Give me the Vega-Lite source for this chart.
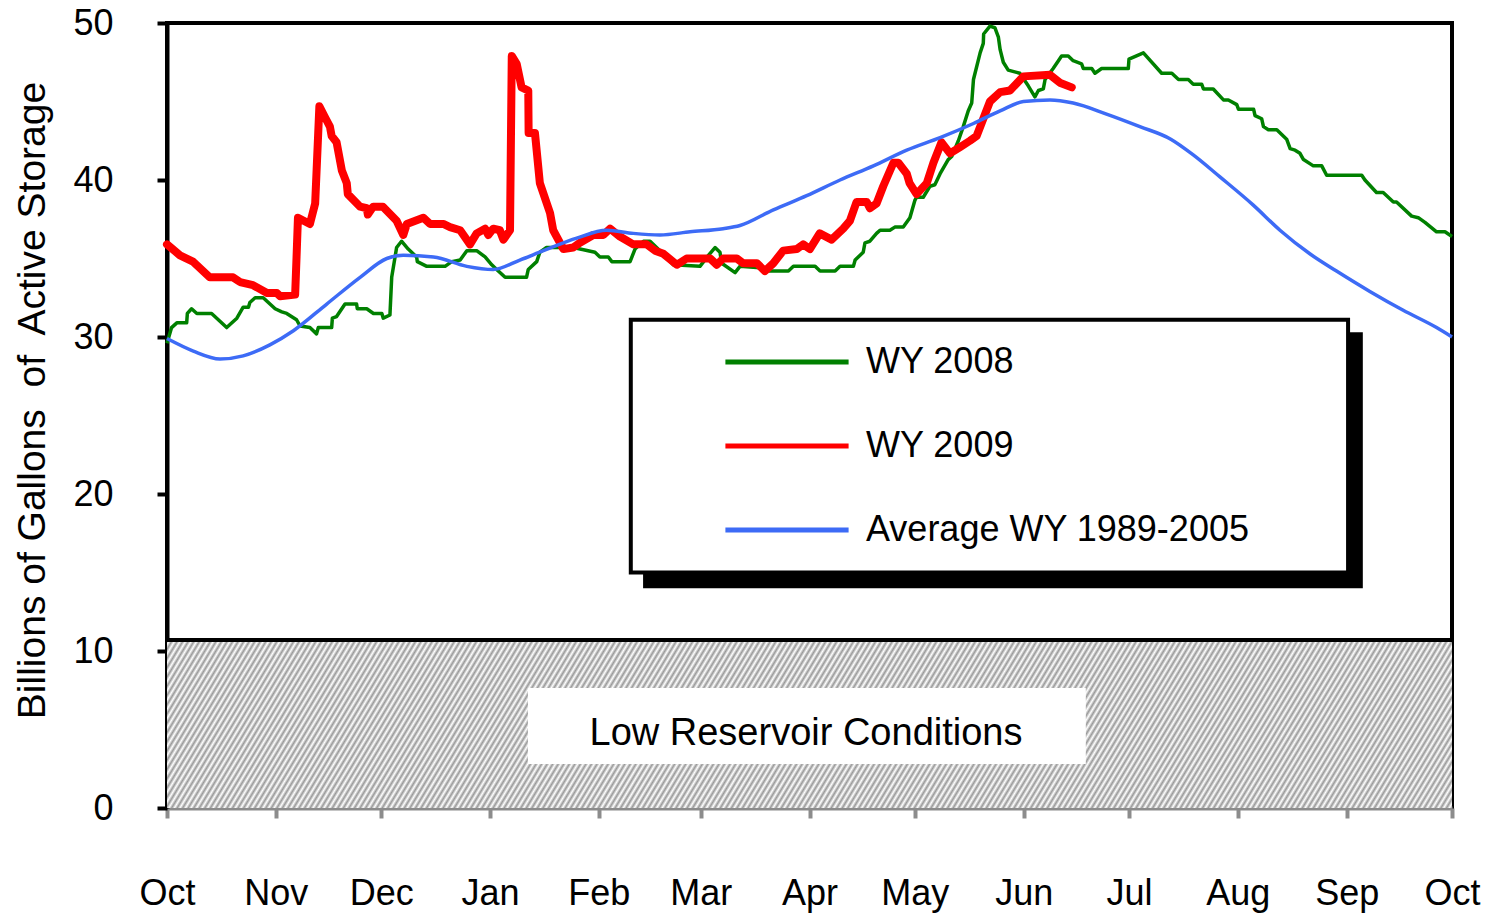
{
  "$schema": "https://vega.github.io/schema/vega-lite/v6.json",
  "autosize": "none",
  "width": 1285,
  "height": 785,
  "padding": {"left": 167, "top": 23, "right": 41, "bottom": 105},
  "background": "white",
  "config": {
    "font": "Liberation Sans",
    "view": {"stroke": "black", "strokeWidth": 4}
  },
  "datasets": {
    "zone": [{"zone": "Low Reservoir Conditions", "day": 0, "dayEnd": 366, "storage": 0, "storageTop": 10.7}],
    "threshold": [{"day": 0, "dayEnd": 366, "storage": 10.7}],
    "labelBox": [{"day": 102.8, "dayEnd": 261.7, "storage": 2.8, "storageTop": 7.65}],
    "labels": [{"day": 182, "storage": 4.7, "text": "Low Reservoir Conditions"}],
    "legendShadow": [{"day": 135.6, "dayEnd": 340.6, "storage": 14.0, "storageTop": 30.3}],
    "legendBox": [{"day": 132.1, "dayEnd": 336.4, "storage": 15.0, "storageTop": 31.1}],
    "wy2008": [
      {"series":"WY 2008","day":0,"storage":29.6},{"series":"WY 2008","day":1.3,"storage":30.6},{"series":"WY 2008","day":2.8,"storage":30.9},{"series":"WY 2008","day":5.6,"storage":30.9},{"series":"WY 2008","day":5.8,"storage":31.5},{"series":"WY 2008","day":7.0,"storage":31.8},{"series":"WY 2008","day":8.5,"storage":31.5},{"series":"WY 2008","day":12.7,"storage":31.5},{"series":"WY 2008","day":17.0,"storage":30.6},{"series":"WY 2008","day":19.9,"storage":31.2},{"series":"WY 2008","day":21.7,"storage":31.9},{"series":"WY 2008","day":23.2,"storage":31.9},{"series":"WY 2008","day":23.6,"storage":32.2},{"series":"WY 2008","day":25.1,"storage":32.5},{"series":"WY 2008","day":27.4,"storage":32.5},{"series":"WY 2008","day":30.8,"storage":31.8},{"series":"WY 2008","day":32.7,"storage":31.6},{"series":"WY 2008","day":34.1,"storage":31.5},{"series":"WY 2008","day":36.9,"storage":31.1},{"series":"WY 2008","day":37.9,"storage":30.7},{"series":"WY 2008","day":40.7,"storage":30.6},{"series":"WY 2008","day":42.6,"storage":30.2},{"series":"WY 2008","day":43.1,"storage":30.6},{"series":"WY 2008","day":46.9,"storage":30.6},{"series":"WY 2008","day":47.1,"storage":31.2},{"series":"WY 2008","day":48.3,"storage":31.3},{"series":"WY 2008","day":50.7,"storage":32.1},{"series":"WY 2008","day":54.0,"storage":32.1},{"series":"WY 2008","day":54.2,"storage":31.8},{"series":"WY 2008","day":56.9,"storage":31.8},{"series":"WY 2008","day":58.8,"storage":31.5},{"series":"WY 2008","day":61.2,"storage":31.5},{"series":"WY 2008","day":61.6,"storage":31.2},{"series":"WY 2008","day":63.5,"storage":31.4},{"series":"WY 2008","day":64.0,"storage":33.8},{"series":"WY 2008","day":65.4,"storage":35.7},{"series":"WY 2008","day":66.8,"storage":36.1},{"series":"WY 2008","day":68.7,"storage":35.6},{"series":"WY 2008","day":71.1,"storage":35.1},{"series":"WY 2008","day":71.3,"storage":34.8},{"series":"WY 2008","day":74.0,"storage":34.5},{"series":"WY 2008","day":79.2,"storage":34.5},{"series":"WY 2008","day":81.1,"storage":34.8},{"series":"WY 2008","day":83.5,"storage":34.9},{"series":"WY 2008","day":85.4,"storage":35.5},{"series":"WY 2008","day":88.2,"storage":35.5},{"series":"WY 2008","day":90.6,"storage":35.1},{"series":"WY 2008","day":92.5,"storage":34.6},{"series":"WY 2008","day":93.9,"storage":34.3},{"series":"WY 2008","day":96.3,"storage":33.8},{"series":"WY 2008","day":102.4,"storage":33.8},{"series":"WY 2008","day":102.9,"storage":34.3},{"series":"WY 2008","day":105.3,"storage":34.8},{"series":"WY 2008","day":106.2,"storage":35.4},{"series":"WY 2008","day":108.1,"storage":35.7},{"series":"WY 2008","day":115.7,"storage":35.7},{"series":"WY 2008","day":121.9,"storage":35.4},{"series":"WY 2008","day":123.3,"storage":35.1},{"series":"WY 2008","day":125.7,"storage":35.1},{"series":"WY 2008","day":126.7,"storage":34.8},{"series":"WY 2008","day":131.9,"storage":34.8},{"series":"WY 2008","day":133.3,"storage":35.6},{"series":"WY 2008","day":135.7,"storage":36.1},{"series":"WY 2008","day":137.6,"storage":36.1},{"series":"WY 2008","day":140.4,"storage":35.5},{"series":"WY 2008","day":144.2,"storage":34.6},{"series":"WY 2008","day":151.8,"storage":34.5},{"series":"WY 2008","day":154.2,"storage":35.2},{"series":"WY 2008","day":156.1,"storage":35.7},{"series":"WY 2008","day":157.5,"storage":35.4},{"series":"WY 2008","day":158.0,"storage":34.7},{"series":"WY 2008","day":161.8,"storage":34.1},{"series":"WY 2008","day":163.2,"storage":34.5},{"series":"WY 2008","day":169.8,"storage":34.4},{"series":"WY 2008","day":171.3,"storage":34.2},{"series":"WY 2008","day":177.0,"storage":34.2},{"series":"WY 2008","day":178.4,"storage":34.5},{"series":"WY 2008","day":184.6,"storage":34.5},{"series":"WY 2008","day":186.0,"storage":34.2},{"series":"WY 2008","day":190.3,"storage":34.2},{"series":"WY 2008","day":191.7,"storage":34.5},{"series":"WY 2008","day":195.5,"storage":34.5},{"series":"WY 2008","day":196.0,"storage":34.9},{"series":"WY 2008","day":198.3,"storage":35.4},{"series":"WY 2008","day":198.8,"storage":36.0},{"series":"WY 2008","day":200.2,"storage":36.1},{"series":"WY 2008","day":202.1,"storage":36.6},{"series":"WY 2008","day":203.1,"storage":36.8},{"series":"WY 2008","day":205.9,"storage":36.8},{"series":"WY 2008","day":207.3,"storage":37.0},{"series":"WY 2008","day":209.7,"storage":37.0},{"series":"WY 2008","day":211.6,"storage":37.6},{"series":"WY 2008","day":213.0,"storage":38.7},{"series":"WY 2008","day":213.5,"storage":38.9},{"series":"WY 2008","day":215.4,"storage":38.9},{"series":"WY 2008","day":217.3,"storage":39.6},{"series":"WY 2008","day":218.7,"storage":39.7},{"series":"WY 2008","day":220.2,"storage":40.4},{"series":"WY 2008","day":222.5,"storage":41.3},{"series":"WY 2008","day":223.5,"storage":41.5},{"series":"WY 2008","day":225.4,"storage":42.5},{"series":"WY 2008","day":226.8,"storage":43.4},{"series":"WY 2008","day":228.2,"storage":44.4},{"series":"WY 2008","day":229.2,"storage":44.9},{"series":"WY 2008","day":229.7,"storage":46.4},{"series":"WY 2008","day":231.6,"storage":48.1},{"series":"WY 2008","day":232.5,"storage":48.7},{"series":"WY 2008","day":232.6,"storage":49.3},{"series":"WY 2008","day":234.4,"storage":49.8},{"series":"WY 2008","day":235.8,"storage":49.7},{"series":"WY 2008","day":236.8,"storage":49.1},{"series":"WY 2008","day":237.3,"storage":48.3},{"series":"WY 2008","day":238.2,"storage":47.5},{"series":"WY 2008","day":239.6,"storage":47.0},{"series":"WY 2008","day":242.9,"storage":46.8},{"series":"WY 2008","day":245.3,"storage":46.0},{"series":"WY 2008","day":247.2,"storage":45.3},{"series":"WY 2008","day":248.2,"storage":45.7},{"series":"WY 2008","day":249.6,"storage":45.8},{"series":"WY 2008","day":250.1,"storage":46.4},{"series":"WY 2008","day":252.4,"storage":47.1},{"series":"WY 2008","day":253.9,"storage":47.6},{"series":"WY 2008","day":254.8,"storage":47.9},{"series":"WY 2008","day":256.7,"storage":47.9},{"series":"WY 2008","day":258.1,"storage":47.6},{"series":"WY 2008","day":260.5,"storage":47.4},{"series":"WY 2008","day":261.0,"storage":47.1},{"series":"WY 2008","day":263.4,"storage":47.1},{"series":"WY 2008","day":264.3,"storage":46.8},{"series":"WY 2008","day":266.2,"storage":47.1},{"series":"WY 2008","day":273.8,"storage":47.1},{"series":"WY 2008","day":274.0,"storage":47.7},{"series":"WY 2008","day":278.1,"storage":48.1},{"series":"WY 2008","day":283.3,"storage":46.8},{"series":"WY 2008","day":286.2,"storage":46.8},{"series":"WY 2008","day":288.1,"storage":46.4},{"series":"WY 2008","day":290.9,"storage":46.4},{"series":"WY 2008","day":292.3,"storage":46.1},{"series":"WY 2008","day":294.7,"storage":46.1},{"series":"WY 2008","day":295.2,"storage":45.8},{"series":"WY 2008","day":298.0,"storage":45.8},{"series":"WY 2008","day":300.9,"storage":45.1},{"series":"WY 2008","day":302.3,"storage":45.1},{"series":"WY 2008","day":304.7,"storage":44.8},{"series":"WY 2008","day":305.2,"storage":44.5},{"series":"WY 2008","day":309.5,"storage":44.5},{"series":"WY 2008","day":309.9,"storage":44.1},{"series":"WY 2008","day":311.8,"storage":43.9},{"series":"WY 2008","day":312.3,"storage":43.4},{"series":"WY 2008","day":313.7,"storage":43.2},{"series":"WY 2008","day":316.1,"storage":43.2},{"series":"WY 2008","day":317.5,"storage":42.9},{"series":"WY 2008","day":318.9,"storage":42.6},{"series":"WY 2008","day":319.9,"storage":42.0},{"series":"WY 2008","day":321.3,"storage":41.9},{"series":"WY 2008","day":322.7,"storage":41.7},{"series":"WY 2008","day":323.7,"storage":41.3},{"series":"WY 2008","day":326.5,"storage":40.9},{"series":"WY 2008","day":328.9,"storage":40.9},{"series":"WY 2008","day":330.3,"storage":40.3},{"series":"WY 2008","day":340.3,"storage":40.3},{"series":"WY 2008","day":341.2,"storage":40.0},{"series":"WY 2008","day":344.5,"storage":39.2},{"series":"WY 2008","day":346.4,"storage":39.2},{"series":"WY 2008","day":349.3,"storage":38.6},{"series":"WY 2008","day":350.2,"storage":38.6},{"series":"WY 2008","day":354.5,"storage":37.7},{"series":"WY 2008","day":356.4,"storage":37.6},{"series":"WY 2008","day":358.3,"storage":37.3},{"series":"WY 2008","day":361.6,"storage":36.7},{"series":"WY 2008","day":364.0,"storage":36.7},{"series":"WY 2008","day":366,"storage":36.4}
    ],
    "wy2009": [
      {"series":"WY 2009","day":0,"storage":35.9},{"series":"WY 2009","day":3.7,"storage":35.2},{"series":"WY 2009","day":7.4,"storage":34.8},{"series":"WY 2009","day":12.2,"storage":33.8},{"series":"WY 2009","day":18.8,"storage":33.8},{"series":"WY 2009","day":20.8,"storage":33.5},{"series":"WY 2009","day":24.5,"storage":33.3},{"series":"WY 2009","day":28.5,"storage":32.8},{"series":"WY 2009","day":31.3,"storage":32.8},{"series":"WY 2009","day":32.2,"storage":32.6},{"series":"WY 2009","day":36.5,"storage":32.7},{"series":"WY 2009","day":36.9,"storage":35.1},{"series":"WY 2009","day":37.3,"storage":37.6},{"series":"WY 2009","day":40.7,"storage":37.2},{"series":"WY 2009","day":42.2,"storage":38.5},{"series":"WY 2009","day":43.4,"storage":44.7},{"series":"WY 2009","day":45.0,"storage":44.0},{"series":"WY 2009","day":46.4,"storage":43.4},{"series":"WY 2009","day":46.9,"storage":42.8},{"series":"WY 2009","day":48.3,"storage":42.4},{"series":"WY 2009","day":49.8,"storage":40.6},{"series":"WY 2009","day":51.2,"storage":39.8},{"series":"WY 2009","day":51.5,"storage":39.1},{"series":"WY 2009","day":55.0,"storage":38.3},{"series":"WY 2009","day":56.9,"storage":38.2},{"series":"WY 2009","day":57.2,"storage":37.8},{"series":"WY 2009","day":58.7,"storage":38.3},{"series":"WY 2009","day":61.5,"storage":38.3},{"series":"WY 2009","day":65.4,"storage":37.4},{"series":"WY 2009","day":67.3,"storage":36.5},{"series":"WY 2009","day":68.3,"storage":37.2},{"series":"WY 2009","day":73.0,"storage":37.6},{"series":"WY 2009","day":74.9,"storage":37.2},{"series":"WY 2009","day":78.7,"storage":37.2},{"series":"WY 2009","day":80.6,"storage":37.0},{"series":"WY 2009","day":83.5,"storage":36.8},{"series":"WY 2009","day":86.3,"storage":35.9},{"series":"WY 2009","day":88.2,"storage":36.6},{"series":"WY 2009","day":90.6,"storage":36.9},{"series":"WY 2009","day":91.5,"storage":36.5},{"series":"WY 2009","day":92.9,"storage":36.9},{"series":"WY 2009","day":94.8,"storage":36.8},{"series":"WY 2009","day":95.8,"storage":36.2},{"series":"WY 2009","day":97.7,"storage":36.8},{"series":"WY 2009","day":98.2,"storage":47.9},{"series":"WY 2009","day":99.6,"storage":47.4},{"series":"WY 2009","day":101.0,"storage":45.9},{"series":"WY 2009","day":102.9,"storage":45.7},{"series":"WY 2009","day":103.0,"storage":43.0},{"series":"WY 2009","day":104.8,"storage":43.0},{"series":"WY 2009","day":106.2,"storage":39.8},{"series":"WY 2009","day":109.1,"storage":37.9},{"series":"WY 2009","day":110.0,"storage":36.8},{"series":"WY 2009","day":112.9,"storage":35.6},{"series":"WY 2009","day":115.7,"storage":35.7},{"series":"WY 2009","day":117.6,"storage":36.0},{"series":"WY 2009","day":121.4,"storage":36.5},{"series":"WY 2009","day":124.3,"storage":36.5},{"series":"WY 2009","day":126.2,"storage":36.9},{"series":"WY 2009","day":129.0,"storage":36.4},{"series":"WY 2009","day":132.8,"storage":35.9},{"series":"WY 2009","day":136.6,"storage":35.9},{"series":"WY 2009","day":139.0,"storage":35.5},{"series":"WY 2009","day":141.4,"storage":35.3},{"series":"WY 2009","day":145.2,"storage":34.6},{"series":"WY 2009","day":148.0,"storage":35.0},{"series":"WY 2009","day":154.7,"storage":35.0},{"series":"WY 2009","day":156.6,"storage":34.6},{"series":"WY 2009","day":158.4,"storage":35.0},{"series":"WY 2009","day":162.3,"storage":35.0},{"series":"WY 2009","day":164.1,"storage":34.7},{"series":"WY 2009","day":168.0,"storage":34.7},{"series":"WY 2009","day":170.3,"storage":34.2},{"series":"WY 2009","day":172.7,"storage":34.7},{"series":"WY 2009","day":175.5,"storage":35.5},{"series":"WY 2009","day":179.4,"storage":35.6},{"series":"WY 2009","day":181.2,"storage":35.9},{"series":"WY 2009","day":183.1,"storage":35.6},{"series":"WY 2009","day":185.9,"storage":36.6},{"series":"WY 2009","day":189.3,"storage":36.2},{"series":"WY 2009","day":192.6,"storage":36.9},{"series":"WY 2009","day":194.5,"storage":37.4},{"series":"WY 2009","day":196.4,"storage":38.6},{"series":"WY 2009","day":199.3,"storage":38.6},{"series":"WY 2009","day":200.2,"storage":38.2},{"series":"WY 2009","day":202.1,"storage":38.5},{"series":"WY 2009","day":204.0,"storage":39.6},{"series":"WY 2009","day":206.9,"storage":41.1},{"series":"WY 2009","day":208.3,"storage":41.1},{"series":"WY 2009","day":210.7,"storage":40.4},{"series":"WY 2009","day":211.5,"storage":39.8},{"series":"WY 2009","day":213.5,"storage":39.1},{"series":"WY 2009","day":216.4,"storage":39.8},{"series":"WY 2009","day":218.3,"storage":41.1},{"series":"WY 2009","day":220.6,"storage":42.4},{"series":"WY 2009","day":223.0,"storage":41.7},{"series":"WY 2009","day":225.9,"storage":42.1},{"series":"WY 2009","day":228.7,"storage":42.5},{"series":"WY 2009","day":230.6,"storage":42.8},{"series":"WY 2009","day":232.5,"storage":43.9},{"series":"WY 2009","day":234.4,"storage":45.0},{"series":"WY 2009","day":237.3,"storage":45.6},{"series":"WY 2009","day":240.1,"storage":45.7},{"series":"WY 2009","day":243.9,"storage":46.6},{"series":"WY 2009","day":251.5,"storage":46.7},{"series":"WY 2009","day":254.3,"storage":46.2},{"series":"WY 2009","day":257.7,"storage":45.9}
    ],
    "avg": [
      {"series":"Average WY 1989-2005","day":0,"storage":29.9},{"series":"Average WY 1989-2005","day":7.5,"storage":29.1},{"series":"Average WY 1989-2005","day":15.1,"storage":28.6},{"series":"Average WY 1989-2005","day":21.7,"storage":28.8},{"series":"Average WY 1989-2005","day":29.3,"storage":29.5},{"series":"Average WY 1989-2005","day":36.0,"storage":30.4},{"series":"Average WY 1989-2005","day":45.5,"storage":32.1},{"series":"Average WY 1989-2005","day":55.0,"storage":33.8},{"series":"Average WY 1989-2005","day":62.6,"storage":35.0},{"series":"Average WY 1989-2005","day":67.3,"storage":35.2},{"series":"Average WY 1989-2005","day":75.9,"storage":35.1},{"series":"Average WY 1989-2005","day":85.4,"storage":34.5},{"series":"Average WY 1989-2005","day":92.9,"storage":34.3},{"series":"Average WY 1989-2005","day":100.5,"storage":34.9},{"series":"Average WY 1989-2005","day":107.2,"storage":35.5},{"series":"Average WY 1989-2005","day":116.7,"storage":36.3},{"series":"Average WY 1989-2005","day":125.2,"storage":36.8},{"series":"Average WY 1989-2005","day":132.8,"storage":36.6},{"series":"Average WY 1989-2005","day":140.4,"storage":36.5},{"series":"Average WY 1989-2005","day":149.0,"storage":36.7},{"series":"Average WY 1989-2005","day":158.4,"storage":36.9},{"series":"Average WY 1989-2005","day":163.2,"storage":37.1},{"series":"Average WY 1989-2005","day":172.7,"storage":38.1},{"series":"Average WY 1989-2005","day":182.2,"storage":39.0},{"series":"Average WY 1989-2005","day":191.7,"storage":40.0},{"series":"Average WY 1989-2005","day":201.2,"storage":40.9},{"series":"Average WY 1989-2005","day":210.7,"storage":41.9},{"series":"Average WY 1989-2005","day":220.2,"storage":42.7},{"series":"Average WY 1989-2005","day":229.7,"storage":43.6},{"series":"Average WY 1989-2005","day":237.3,"storage":44.4},{"series":"Average WY 1989-2005","day":243.9,"storage":45.0},{"series":"Average WY 1989-2005","day":251.5,"storage":45.1},{"series":"Average WY 1989-2005","day":258.1,"storage":44.9},{"series":"Average WY 1989-2005","day":267.6,"storage":44.2},{"series":"Average WY 1989-2005","day":277.1,"storage":43.4},{"series":"Average WY 1989-2005","day":285.9,"storage":42.6},{"series":"Average WY 1989-2005","day":292.3,"storage":41.6},{"series":"Average WY 1989-2005","day":299.9,"storage":40.2},{"series":"Average WY 1989-2005","day":309.4,"storage":38.4},{"series":"Average WY 1989-2005","day":317.0,"storage":36.8},{"series":"Average WY 1989-2005","day":325.5,"storage":35.3},{"series":"Average WY 1989-2005","day":333.1,"storage":34.2},{"series":"Average WY 1989-2005","day":342.6,"storage":32.9},{"series":"Average WY 1989-2005","day":352.1,"storage":31.7},{"series":"Average WY 1989-2005","day":361.6,"storage":30.6},{"series":"Average WY 1989-2005","day":366,"storage":30.0}
    ]
  },
  "encoding": {
    "x": {
      "field": "day", "type": "quantitative",
      "scale": {"domain": [0, 366], "nice": false, "zero": false},
      "axis": {
        "title": null,
        "values": [0, 31, 61, 92, 123, 152, 183, 213, 244, 274, 305, 336, 366],
        "labelExpr": "['Oct','Nov','Dec','Jan','Feb','Mar','Apr','May','Jun','Jul','Aug','Sep','Oct'][indexof([0,31,61,92,123,152,183,213,244,274,305,336,366], datum.value)]",
        "grid": false,
        "domainColor": "#8c8c8c", "domainWidth": 4,
        "tickColor": "#8c8c8c", "tickWidth": 4, "tickSize": 10,
        "labelFont": "Liberation Sans", "labelFontSize": 36, "labelColor": "black",
        "labelPadding": 58, "labelFlush": false, "labelOverlap": false
      }
    },
    "y": {
      "field": "storage", "type": "quantitative",
      "scale": {"domain": [0, 50], "nice": false},
      "axis": {
        "title": "Billions of Gallons\u00a0 of\u00a0 Active Storage",
        "titleFont": "Liberation Sans", "titleFontSize": 39, "titleFontWeight": "normal", "titleColor": "black",
        "titleAngle": -90, "titleAlign": "center", "titleBaseline": "middle",
        "titleX": -135, "titleY": 377,
        "values": [0, 10, 20, 30, 40, 50],
        "grid": false,
        "domainColor": "black", "domainWidth": 4,
        "tickColor": "black", "tickWidth": 4, "tickSize": 10,
        "labelFont": "Liberation Sans", "labelFontSize": 36, "labelColor": "black",
        "labelPadding": 44
      }
    }
  },
  "layer": [
    {
      "data": {"name": "zone"},
      "mark": {"type": "rect", "fill": {"gradient": "linear", "x1": 0, "y1": 0, "x2": 1.0718, "y2": 0.084, "stops": [
        {"offset":0,"color":"#999"},{"offset":0.002,"color":"#fff"},{"offset":0.004,"color":"#999"},{"offset":0.006,"color":"#fff"},{"offset":0.008,"color":"#999"},{"offset":0.01,"color":"#fff"},{"offset":0.012,"color":"#999"},{"offset":0.014,"color":"#fff"},{"offset":0.016,"color":"#999"},{"offset":0.018,"color":"#fff"},
        {"offset":0.02,"color":"#999"},{"offset":0.022,"color":"#fff"},{"offset":0.024,"color":"#999"},{"offset":0.026,"color":"#fff"},{"offset":0.028,"color":"#999"},{"offset":0.03,"color":"#fff"},{"offset":0.032,"color":"#999"},{"offset":0.034,"color":"#fff"},{"offset":0.036,"color":"#999"},{"offset":0.038,"color":"#fff"},
        {"offset":0.04,"color":"#999"},{"offset":0.042,"color":"#fff"},{"offset":0.044,"color":"#999"},{"offset":0.046,"color":"#fff"},{"offset":0.048,"color":"#999"},{"offset":0.05,"color":"#fff"},{"offset":0.052,"color":"#999"},{"offset":0.054,"color":"#fff"},{"offset":0.056,"color":"#999"},{"offset":0.058,"color":"#fff"},
        {"offset":0.06,"color":"#999"},{"offset":0.062,"color":"#fff"},{"offset":0.064,"color":"#999"},{"offset":0.066,"color":"#fff"},{"offset":0.068,"color":"#999"},{"offset":0.07,"color":"#fff"},{"offset":0.072,"color":"#999"},{"offset":0.074,"color":"#fff"},{"offset":0.076,"color":"#999"},{"offset":0.078,"color":"#fff"},
        {"offset":0.08,"color":"#999"},{"offset":0.082,"color":"#fff"},{"offset":0.084,"color":"#999"},{"offset":0.086,"color":"#fff"},{"offset":0.088,"color":"#999"},{"offset":0.09,"color":"#fff"},{"offset":0.092,"color":"#999"},{"offset":0.094,"color":"#fff"},{"offset":0.096,"color":"#999"},{"offset":0.098,"color":"#fff"},
        {"offset":0.1,"color":"#999"},{"offset":0.102,"color":"#fff"},{"offset":0.104,"color":"#999"},{"offset":0.106,"color":"#fff"},{"offset":0.108,"color":"#999"},{"offset":0.11,"color":"#fff"},{"offset":0.112,"color":"#999"},{"offset":0.114,"color":"#fff"},{"offset":0.116,"color":"#999"},{"offset":0.118,"color":"#fff"},
        {"offset":0.12,"color":"#999"},{"offset":0.122,"color":"#fff"},{"offset":0.124,"color":"#999"},{"offset":0.126,"color":"#fff"},{"offset":0.128,"color":"#999"},{"offset":0.13,"color":"#fff"},{"offset":0.132,"color":"#999"},{"offset":0.134,"color":"#fff"},{"offset":0.136,"color":"#999"},{"offset":0.138,"color":"#fff"},
        {"offset":0.14,"color":"#999"},{"offset":0.142,"color":"#fff"},{"offset":0.144,"color":"#999"},{"offset":0.146,"color":"#fff"},{"offset":0.148,"color":"#999"},{"offset":0.15,"color":"#fff"},{"offset":0.152,"color":"#999"},{"offset":0.154,"color":"#fff"},{"offset":0.156,"color":"#999"},{"offset":0.158,"color":"#fff"},
        {"offset":0.16,"color":"#999"},{"offset":0.162,"color":"#fff"},{"offset":0.164,"color":"#999"},{"offset":0.166,"color":"#fff"},{"offset":0.168,"color":"#999"},{"offset":0.17,"color":"#fff"},{"offset":0.172,"color":"#999"},{"offset":0.174,"color":"#fff"},{"offset":0.176,"color":"#999"},{"offset":0.178,"color":"#fff"},
        {"offset":0.18,"color":"#999"},{"offset":0.182,"color":"#fff"},{"offset":0.184,"color":"#999"},{"offset":0.186,"color":"#fff"},{"offset":0.188,"color":"#999"},{"offset":0.19,"color":"#fff"},{"offset":0.192,"color":"#999"},{"offset":0.194,"color":"#fff"},{"offset":0.196,"color":"#999"},{"offset":0.198,"color":"#fff"},
        {"offset":0.2,"color":"#999"},{"offset":0.202,"color":"#fff"},{"offset":0.204,"color":"#999"},{"offset":0.206,"color":"#fff"},{"offset":0.208,"color":"#999"},{"offset":0.21,"color":"#fff"},{"offset":0.212,"color":"#999"},{"offset":0.214,"color":"#fff"},{"offset":0.216,"color":"#999"},{"offset":0.218,"color":"#fff"},
        {"offset":0.22,"color":"#999"},{"offset":0.222,"color":"#fff"},{"offset":0.224,"color":"#999"},{"offset":0.226,"color":"#fff"},{"offset":0.228,"color":"#999"},{"offset":0.23,"color":"#fff"},{"offset":0.232,"color":"#999"},{"offset":0.234,"color":"#fff"},{"offset":0.236,"color":"#999"},{"offset":0.238,"color":"#fff"},
        {"offset":0.24,"color":"#999"},{"offset":0.242,"color":"#fff"},{"offset":0.244,"color":"#999"},{"offset":0.246,"color":"#fff"},{"offset":0.248,"color":"#999"},{"offset":0.25,"color":"#fff"},{"offset":0.252,"color":"#999"},{"offset":0.254,"color":"#fff"},{"offset":0.256,"color":"#999"},{"offset":0.258,"color":"#fff"},
        {"offset":0.26,"color":"#999"},{"offset":0.262,"color":"#fff"},{"offset":0.264,"color":"#999"},{"offset":0.266,"color":"#fff"},{"offset":0.268,"color":"#999"},{"offset":0.27,"color":"#fff"},{"offset":0.272,"color":"#999"},{"offset":0.274,"color":"#fff"},{"offset":0.276,"color":"#999"},{"offset":0.278,"color":"#fff"},
        {"offset":0.28,"color":"#999"},{"offset":0.282,"color":"#fff"},{"offset":0.284,"color":"#999"},{"offset":0.286,"color":"#fff"},{"offset":0.288,"color":"#999"},{"offset":0.29,"color":"#fff"},{"offset":0.292,"color":"#999"},{"offset":0.294,"color":"#fff"},{"offset":0.296,"color":"#999"},{"offset":0.298,"color":"#fff"},
        {"offset":0.3,"color":"#999"},{"offset":0.302,"color":"#fff"},{"offset":0.304,"color":"#999"},{"offset":0.306,"color":"#fff"},{"offset":0.308,"color":"#999"},{"offset":0.31,"color":"#fff"},{"offset":0.312,"color":"#999"},{"offset":0.314,"color":"#fff"},{"offset":0.316,"color":"#999"},{"offset":0.318,"color":"#fff"},
        {"offset":0.32,"color":"#999"},{"offset":0.322,"color":"#fff"},{"offset":0.324,"color":"#999"},{"offset":0.326,"color":"#fff"},{"offset":0.328,"color":"#999"},{"offset":0.33,"color":"#fff"},{"offset":0.332,"color":"#999"},{"offset":0.334,"color":"#fff"},{"offset":0.336,"color":"#999"},{"offset":0.338,"color":"#fff"},
        {"offset":0.34,"color":"#999"},{"offset":0.342,"color":"#fff"},{"offset":0.344,"color":"#999"},{"offset":0.346,"color":"#fff"},{"offset":0.348,"color":"#999"},{"offset":0.35,"color":"#fff"},{"offset":0.352,"color":"#999"},{"offset":0.354,"color":"#fff"},{"offset":0.356,"color":"#999"},{"offset":0.358,"color":"#fff"},
        {"offset":0.36,"color":"#999"},{"offset":0.362,"color":"#fff"},{"offset":0.364,"color":"#999"},{"offset":0.366,"color":"#fff"},{"offset":0.368,"color":"#999"},{"offset":0.37,"color":"#fff"},{"offset":0.372,"color":"#999"},{"offset":0.374,"color":"#fff"},{"offset":0.376,"color":"#999"},{"offset":0.378,"color":"#fff"},
        {"offset":0.38,"color":"#999"},{"offset":0.382,"color":"#fff"},{"offset":0.384,"color":"#999"},{"offset":0.386,"color":"#fff"},{"offset":0.388,"color":"#999"},{"offset":0.39,"color":"#fff"},{"offset":0.392,"color":"#999"},{"offset":0.394,"color":"#fff"},{"offset":0.396,"color":"#999"},{"offset":0.398,"color":"#fff"},
        {"offset":0.4,"color":"#999"},{"offset":0.402,"color":"#fff"},{"offset":0.404,"color":"#999"},{"offset":0.406,"color":"#fff"},{"offset":0.408,"color":"#999"},{"offset":0.41,"color":"#fff"},{"offset":0.412,"color":"#999"},{"offset":0.414,"color":"#fff"},{"offset":0.416,"color":"#999"},{"offset":0.418,"color":"#fff"},
        {"offset":0.42,"color":"#999"},{"offset":0.422,"color":"#fff"},{"offset":0.424,"color":"#999"},{"offset":0.426,"color":"#fff"},{"offset":0.428,"color":"#999"},{"offset":0.43,"color":"#fff"},{"offset":0.432,"color":"#999"},{"offset":0.434,"color":"#fff"},{"offset":0.436,"color":"#999"},{"offset":0.438,"color":"#fff"},
        {"offset":0.44,"color":"#999"},{"offset":0.442,"color":"#fff"},{"offset":0.444,"color":"#999"},{"offset":0.446,"color":"#fff"},{"offset":0.448,"color":"#999"},{"offset":0.45,"color":"#fff"},{"offset":0.452,"color":"#999"},{"offset":0.454,"color":"#fff"},{"offset":0.456,"color":"#999"},{"offset":0.458,"color":"#fff"},
        {"offset":0.46,"color":"#999"},{"offset":0.462,"color":"#fff"},{"offset":0.464,"color":"#999"},{"offset":0.466,"color":"#fff"},{"offset":0.468,"color":"#999"},{"offset":0.47,"color":"#fff"},{"offset":0.472,"color":"#999"},{"offset":0.474,"color":"#fff"},{"offset":0.476,"color":"#999"},{"offset":0.478,"color":"#fff"},
        {"offset":0.48,"color":"#999"},{"offset":0.482,"color":"#fff"},{"offset":0.484,"color":"#999"},{"offset":0.486,"color":"#fff"},{"offset":0.488,"color":"#999"},{"offset":0.49,"color":"#fff"},{"offset":0.492,"color":"#999"},{"offset":0.494,"color":"#fff"},{"offset":0.496,"color":"#999"},{"offset":0.498,"color":"#fff"},
        {"offset":0.5,"color":"#999"},{"offset":0.502,"color":"#fff"},{"offset":0.504,"color":"#999"},{"offset":0.506,"color":"#fff"},{"offset":0.508,"color":"#999"},{"offset":0.51,"color":"#fff"},{"offset":0.512,"color":"#999"},{"offset":0.514,"color":"#fff"},{"offset":0.516,"color":"#999"},{"offset":0.518,"color":"#fff"},
        {"offset":0.52,"color":"#999"},{"offset":0.522,"color":"#fff"},{"offset":0.524,"color":"#999"},{"offset":0.526,"color":"#fff"},{"offset":0.528,"color":"#999"},{"offset":0.53,"color":"#fff"},{"offset":0.532,"color":"#999"},{"offset":0.534,"color":"#fff"},{"offset":0.536,"color":"#999"},{"offset":0.538,"color":"#fff"},
        {"offset":0.54,"color":"#999"},{"offset":0.542,"color":"#fff"},{"offset":0.544,"color":"#999"},{"offset":0.546,"color":"#fff"},{"offset":0.548,"color":"#999"},{"offset":0.55,"color":"#fff"},{"offset":0.552,"color":"#999"},{"offset":0.554,"color":"#fff"},{"offset":0.556,"color":"#999"},{"offset":0.558,"color":"#fff"},
        {"offset":0.56,"color":"#999"},{"offset":0.562,"color":"#fff"},{"offset":0.564,"color":"#999"},{"offset":0.566,"color":"#fff"},{"offset":0.568,"color":"#999"},{"offset":0.57,"color":"#fff"},{"offset":0.572,"color":"#999"},{"offset":0.574,"color":"#fff"},{"offset":0.576,"color":"#999"},{"offset":0.578,"color":"#fff"},
        {"offset":0.58,"color":"#999"},{"offset":0.582,"color":"#fff"},{"offset":0.584,"color":"#999"},{"offset":0.586,"color":"#fff"},{"offset":0.588,"color":"#999"},{"offset":0.59,"color":"#fff"},{"offset":0.592,"color":"#999"},{"offset":0.594,"color":"#fff"},{"offset":0.596,"color":"#999"},{"offset":0.598,"color":"#fff"},
        {"offset":0.6,"color":"#999"},{"offset":0.602,"color":"#fff"},{"offset":0.604,"color":"#999"},{"offset":0.606,"color":"#fff"},{"offset":0.608,"color":"#999"},{"offset":0.61,"color":"#fff"},{"offset":0.612,"color":"#999"},{"offset":0.614,"color":"#fff"},{"offset":0.616,"color":"#999"},{"offset":0.618,"color":"#fff"},
        {"offset":0.62,"color":"#999"},{"offset":0.622,"color":"#fff"},{"offset":0.624,"color":"#999"},{"offset":0.626,"color":"#fff"},{"offset":0.628,"color":"#999"},{"offset":0.63,"color":"#fff"},{"offset":0.632,"color":"#999"},{"offset":0.634,"color":"#fff"},{"offset":0.636,"color":"#999"},{"offset":0.638,"color":"#fff"},
        {"offset":0.64,"color":"#999"},{"offset":0.642,"color":"#fff"},{"offset":0.644,"color":"#999"},{"offset":0.646,"color":"#fff"},{"offset":0.648,"color":"#999"},{"offset":0.65,"color":"#fff"},{"offset":0.652,"color":"#999"},{"offset":0.654,"color":"#fff"},{"offset":0.656,"color":"#999"},{"offset":0.658,"color":"#fff"},
        {"offset":0.66,"color":"#999"},{"offset":0.662,"color":"#fff"},{"offset":0.664,"color":"#999"},{"offset":0.666,"color":"#fff"},{"offset":0.668,"color":"#999"},{"offset":0.67,"color":"#fff"},{"offset":0.672,"color":"#999"},{"offset":0.674,"color":"#fff"},{"offset":0.676,"color":"#999"},{"offset":0.678,"color":"#fff"},
        {"offset":0.68,"color":"#999"},{"offset":0.682,"color":"#fff"},{"offset":0.684,"color":"#999"},{"offset":0.686,"color":"#fff"},{"offset":0.688,"color":"#999"},{"offset":0.69,"color":"#fff"},{"offset":0.692,"color":"#999"},{"offset":0.694,"color":"#fff"},{"offset":0.696,"color":"#999"},{"offset":0.698,"color":"#fff"},
        {"offset":0.7,"color":"#999"},{"offset":0.702,"color":"#fff"},{"offset":0.704,"color":"#999"},{"offset":0.706,"color":"#fff"},{"offset":0.708,"color":"#999"},{"offset":0.71,"color":"#fff"},{"offset":0.712,"color":"#999"},{"offset":0.714,"color":"#fff"},{"offset":0.716,"color":"#999"},{"offset":0.718,"color":"#fff"},
        {"offset":0.72,"color":"#999"},{"offset":0.722,"color":"#fff"},{"offset":0.724,"color":"#999"},{"offset":0.726,"color":"#fff"},{"offset":0.728,"color":"#999"},{"offset":0.73,"color":"#fff"},{"offset":0.732,"color":"#999"},{"offset":0.734,"color":"#fff"},{"offset":0.736,"color":"#999"},{"offset":0.738,"color":"#fff"},
        {"offset":0.74,"color":"#999"},{"offset":0.742,"color":"#fff"},{"offset":0.744,"color":"#999"},{"offset":0.746,"color":"#fff"},{"offset":0.748,"color":"#999"},{"offset":0.75,"color":"#fff"},{"offset":0.752,"color":"#999"},{"offset":0.754,"color":"#fff"},{"offset":0.756,"color":"#999"},{"offset":0.758,"color":"#fff"},
        {"offset":0.76,"color":"#999"},{"offset":0.762,"color":"#fff"},{"offset":0.764,"color":"#999"},{"offset":0.766,"color":"#fff"},{"offset":0.768,"color":"#999"},{"offset":0.77,"color":"#fff"},{"offset":0.772,"color":"#999"},{"offset":0.774,"color":"#fff"},{"offset":0.776,"color":"#999"},{"offset":0.778,"color":"#fff"},
        {"offset":0.78,"color":"#999"},{"offset":0.782,"color":"#fff"},{"offset":0.784,"color":"#999"},{"offset":0.786,"color":"#fff"},{"offset":0.788,"color":"#999"},{"offset":0.79,"color":"#fff"},{"offset":0.792,"color":"#999"},{"offset":0.794,"color":"#fff"},{"offset":0.796,"color":"#999"},{"offset":0.798,"color":"#fff"},
        {"offset":0.8,"color":"#999"},{"offset":0.802,"color":"#fff"},{"offset":0.804,"color":"#999"},{"offset":0.806,"color":"#fff"},{"offset":0.808,"color":"#999"},{"offset":0.81,"color":"#fff"},{"offset":0.812,"color":"#999"},{"offset":0.814,"color":"#fff"},{"offset":0.816,"color":"#999"},{"offset":0.818,"color":"#fff"},
        {"offset":0.82,"color":"#999"},{"offset":0.822,"color":"#fff"},{"offset":0.824,"color":"#999"},{"offset":0.826,"color":"#fff"},{"offset":0.828,"color":"#999"},{"offset":0.83,"color":"#fff"},{"offset":0.832,"color":"#999"},{"offset":0.834,"color":"#fff"},{"offset":0.836,"color":"#999"},{"offset":0.838,"color":"#fff"},
        {"offset":0.84,"color":"#999"},{"offset":0.842,"color":"#fff"},{"offset":0.844,"color":"#999"},{"offset":0.846,"color":"#fff"},{"offset":0.848,"color":"#999"},{"offset":0.85,"color":"#fff"},{"offset":0.852,"color":"#999"},{"offset":0.854,"color":"#fff"},{"offset":0.856,"color":"#999"},{"offset":0.858,"color":"#fff"},
        {"offset":0.86,"color":"#999"},{"offset":0.862,"color":"#fff"},{"offset":0.864,"color":"#999"},{"offset":0.866,"color":"#fff"},{"offset":0.868,"color":"#999"},{"offset":0.87,"color":"#fff"},{"offset":0.872,"color":"#999"},{"offset":0.874,"color":"#fff"},{"offset":0.876,"color":"#999"},{"offset":0.878,"color":"#fff"},
        {"offset":0.88,"color":"#999"},{"offset":0.882,"color":"#fff"},{"offset":0.884,"color":"#999"},{"offset":0.886,"color":"#fff"},{"offset":0.888,"color":"#999"},{"offset":0.89,"color":"#fff"},{"offset":0.892,"color":"#999"},{"offset":0.894,"color":"#fff"},{"offset":0.896,"color":"#999"},{"offset":0.898,"color":"#fff"},
        {"offset":0.9,"color":"#999"},{"offset":0.902,"color":"#fff"},{"offset":0.904,"color":"#999"},{"offset":0.906,"color":"#fff"},{"offset":0.908,"color":"#999"},{"offset":0.91,"color":"#fff"},{"offset":0.912,"color":"#999"},{"offset":0.914,"color":"#fff"},{"offset":0.916,"color":"#999"},{"offset":0.918,"color":"#fff"},
        {"offset":0.92,"color":"#999"},{"offset":0.922,"color":"#fff"},{"offset":0.924,"color":"#999"},{"offset":0.926,"color":"#fff"},{"offset":0.928,"color":"#999"},{"offset":0.93,"color":"#fff"},{"offset":0.932,"color":"#999"},{"offset":0.934,"color":"#fff"},{"offset":0.936,"color":"#999"},{"offset":0.938,"color":"#fff"},
        {"offset":0.94,"color":"#999"},{"offset":0.942,"color":"#fff"},{"offset":0.944,"color":"#999"},{"offset":0.946,"color":"#fff"},{"offset":0.948,"color":"#999"},{"offset":0.95,"color":"#fff"},{"offset":0.952,"color":"#999"},{"offset":0.954,"color":"#fff"},{"offset":0.956,"color":"#999"},{"offset":0.958,"color":"#fff"},
        {"offset":0.96,"color":"#999"},{"offset":0.962,"color":"#fff"},{"offset":0.964,"color":"#999"},{"offset":0.966,"color":"#fff"},{"offset":0.968,"color":"#999"},{"offset":0.97,"color":"#fff"},{"offset":0.972,"color":"#999"},{"offset":0.974,"color":"#fff"},{"offset":0.976,"color":"#999"},{"offset":0.978,"color":"#fff"},
        {"offset":0.98,"color":"#999"},{"offset":0.982,"color":"#fff"},{"offset":0.984,"color":"#999"},{"offset":0.986,"color":"#fff"},{"offset":0.988,"color":"#999"},{"offset":0.99,"color":"#fff"},{"offset":0.992,"color":"#999"},{"offset":0.994,"color":"#fff"},{"offset":0.996,"color":"#999"},{"offset":0.998,"color":"#fff"},
        {"offset":1,"color":"#999"}
      ]}},
      "encoding": {"x2": {"field": "dayEnd"}, "y2": {"field": "storageTop"}}
    },
    {
      "data": {"name": "threshold"},
      "mark": {"type": "rule", "color": "black", "strokeWidth": 4},
      "encoding": {"x2": {"field": "dayEnd"}}
    },
    {
      "data": {"name": "labelBox"},
      "mark": {"type": "rect", "fill": "white"},
      "encoding": {"x2": {"field": "dayEnd"}, "y2": {"field": "storageTop"}}
    },
    {
      "data": {"name": "labels"},
      "mark": {"type": "text", "font": "Liberation Sans", "fontSize": 38, "color": "black", "align": "center", "baseline": "middle"},
      "encoding": {"text": {"field": "text"}}
    },
    {
      "data": {"name": "legendShadow"},
      "mark": {"type": "rect", "fill": "black"},
      "encoding": {"x2": {"field": "dayEnd"}, "y2": {"field": "storageTop"}}
    },
    {
      "data": {"name": "legendBox"},
      "mark": {"type": "rect", "fill": "white", "stroke": "black", "strokeWidth": 4},
      "encoding": {"x2": {"field": "dayEnd"}, "y2": {"field": "storageTop"}}
    },
    {
      "data": {"name": "wy2008"},
      "mark": {"type": "line", "strokeWidth": 3.5, "strokeJoin": "round"},
      "encoding": {
        "color": {
          "field": "series", "type": "nominal",
          "scale": {"domain": ["WY 2008", "WY 2009", "Average WY 1989-2005"], "range": ["#008000", "#ff0000", "#3d6bf6"]},
          "legend": {
            "title": null, "orient": "none", "legendX": 555, "legendY": 321,
            "padding": 0,
            "symbolType": "M-4.4,0L4.4,0", "symbolSize": 784, "symbolStrokeWidth": 5,
            "symbolOffset": 47, "labelOffset": 61, "rowPadding": 48,
            "labelFont": "Liberation Sans", "labelFontSize": 36, "labelColor": "black", "labelLimit": 800
          }
        }
      }
    },
    {
      "data": {"name": "wy2009"},
      "mark": {"type": "line", "strokeWidth": 8, "strokeJoin": "round", "strokeCap": "round"},
      "encoding": {"color": {"field": "series", "type": "nominal"}}
    },
    {
      "data": {"name": "avg"},
      "mark": {"type": "line", "strokeWidth": 3.5, "interpolate": "monotone"},
      "encoding": {"color": {"field": "series", "type": "nominal"}}
    }
  ]
}
